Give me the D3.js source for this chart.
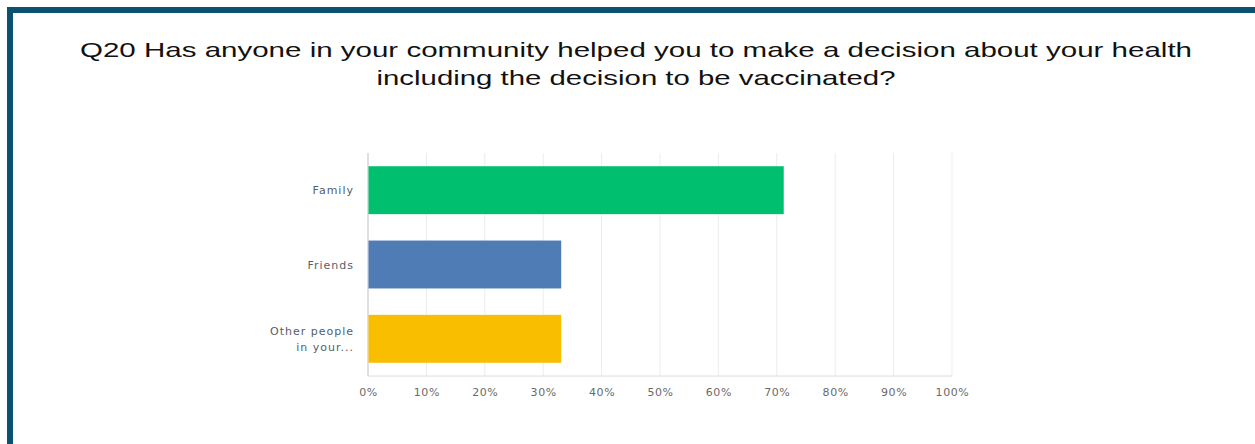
<!DOCTYPE html>
<html>
<head>
<meta charset="utf-8">
<script src="https://cdn.jsdelivr.net/npm/d3@7"></script>
<style>
  body { margin: 0; background: #fff; }
</style>
</head>
<body>
<div id="chart"></div>
<script>
var categories = ["Family", "Friends", "Other people in your..."];
var labelLines = [["Family"], ["Friends"], ["Other people", "in your..."]];
var values = [71.1, 33.0, 33.0];
var colors = ["#00bf6f", "#507cb6", "#f9be00"];
var ticks = [0, 10, 20, 30, 40, 50, 60, 70, 80, 90, 100];
var titleLines = ["Q20 Has anyone in your community helped you to make a decision about your health",
                  "including the decision to be vaccinated?"];
var titleWidths = [1112, 519];

var W = 1255, H = 444;
var margin = {top: 153, left: 368, right: 303, bottom: 68};
var width = W - margin.left - margin.right,
    height = H - margin.top - margin.bottom;

var svg = d3.select("#chart").append("svg")
    .attr("width", W)
    .attr("height", H);

// frame
svg.append("rect")
    .attr("x", 10).attr("y", 10)
    .attr("width", W + 20).attr("height", H + 20)
    .attr("fill", "none")
    .attr("stroke", "#0b5270")
    .attr("stroke-width", 6);

svg.selectAll(".title")
    .data(titleLines).enter()
    .append("text")
    .attr("x", 636)
    .attr("y", function(d, i) { return 57 + i * 28; })
    .attr("text-anchor", "middle")
    .attr("textLength", function(d, i) { return titleWidths[i]; })
    .attr("lengthAdjust", "spacingAndGlyphs")
    .style("font-family", "'Liberation Sans', Arial, sans-serif")
    .style("font-size", "21px")
    .style("fill", "#111")
    .text(function(d) { return d; });

var g = svg.append("g")
    .attr("transform", "translate(" + margin.left + "," + margin.top + ")");

var x = d3.scaleLinear().domain([0, 100]).range([0, width]);
var y = d3.scaleBand().domain(categories).range([0, height]).paddingInner(0.355).paddingOuter(0.178);

// grid
g.selectAll(".grid")
    .data(ticks.slice(1)).enter()
    .append("line")
    .attr("x1", function(d) { return x(d); })
    .attr("x2", function(d) { return x(d); })
    .attr("y1", 0).attr("y2", height)
    .attr("stroke", "#ececec")
    .attr("stroke-width", 1);

g.append("line")
    .attr("x1", 0).attr("x2", width)
    .attr("y1", height).attr("y2", height)
    .attr("stroke", "#dcdcdc");

g.append("line")
    .attr("x1", 0).attr("x2", 0)
    .attr("y1", 0).attr("y2", height)
    .attr("stroke", "#d4d4d4")
    .attr("stroke-width", 1.5);

g.selectAll(".bar")
    .data(values).enter()
    .append("rect")
    .attr("x", 0.5)
    .attr("y", function(d, i) { return y(categories[i]); })
    .attr("width", function(d) { return x(d); })
    .attr("height", y.bandwidth())
    .attr("fill", function(d, i) { return colors[i]; });

var xAxis = g.append("g")
    .attr("transform", "translate(0," + height + ")")
    .call(d3.axisBottom(x).tickValues(ticks).tickSize(0).tickPadding(12)
        .tickFormat(function(d) { return d + "%"; }));
xAxis.select(".domain").remove();
xAxis.selectAll("text")
    .style("font-family", "'DejaVu Sans', sans-serif")
    .style("font-size", "11px")
    .style("letter-spacing", "0.6px")
    .style("fill", "#6a6a6a");

var labels = g.selectAll(".lab")
    .data(categories).enter()
    .append("text")
    .attr("text-anchor", "end")
    .style("font-family", "'DejaVu Sans', sans-serif")
    .style("font-size", "11px")
    .style("letter-spacing", "1px")
    .style("fill", "#545e6b");

labels.each(function(d, i) {
    var lines = labelLines[i];
    var cy = y(d) + y.bandwidth() / 2;
    var t = d3.select(this);
    lines.forEach(function(l, j) {
        t.append("tspan")
            .attr("x", -14)
            .attr("y", cy + 4 + (j - (lines.length - 1) / 2) * 16)
            .text(l);
    });
});
</script>
</body>
</html>
